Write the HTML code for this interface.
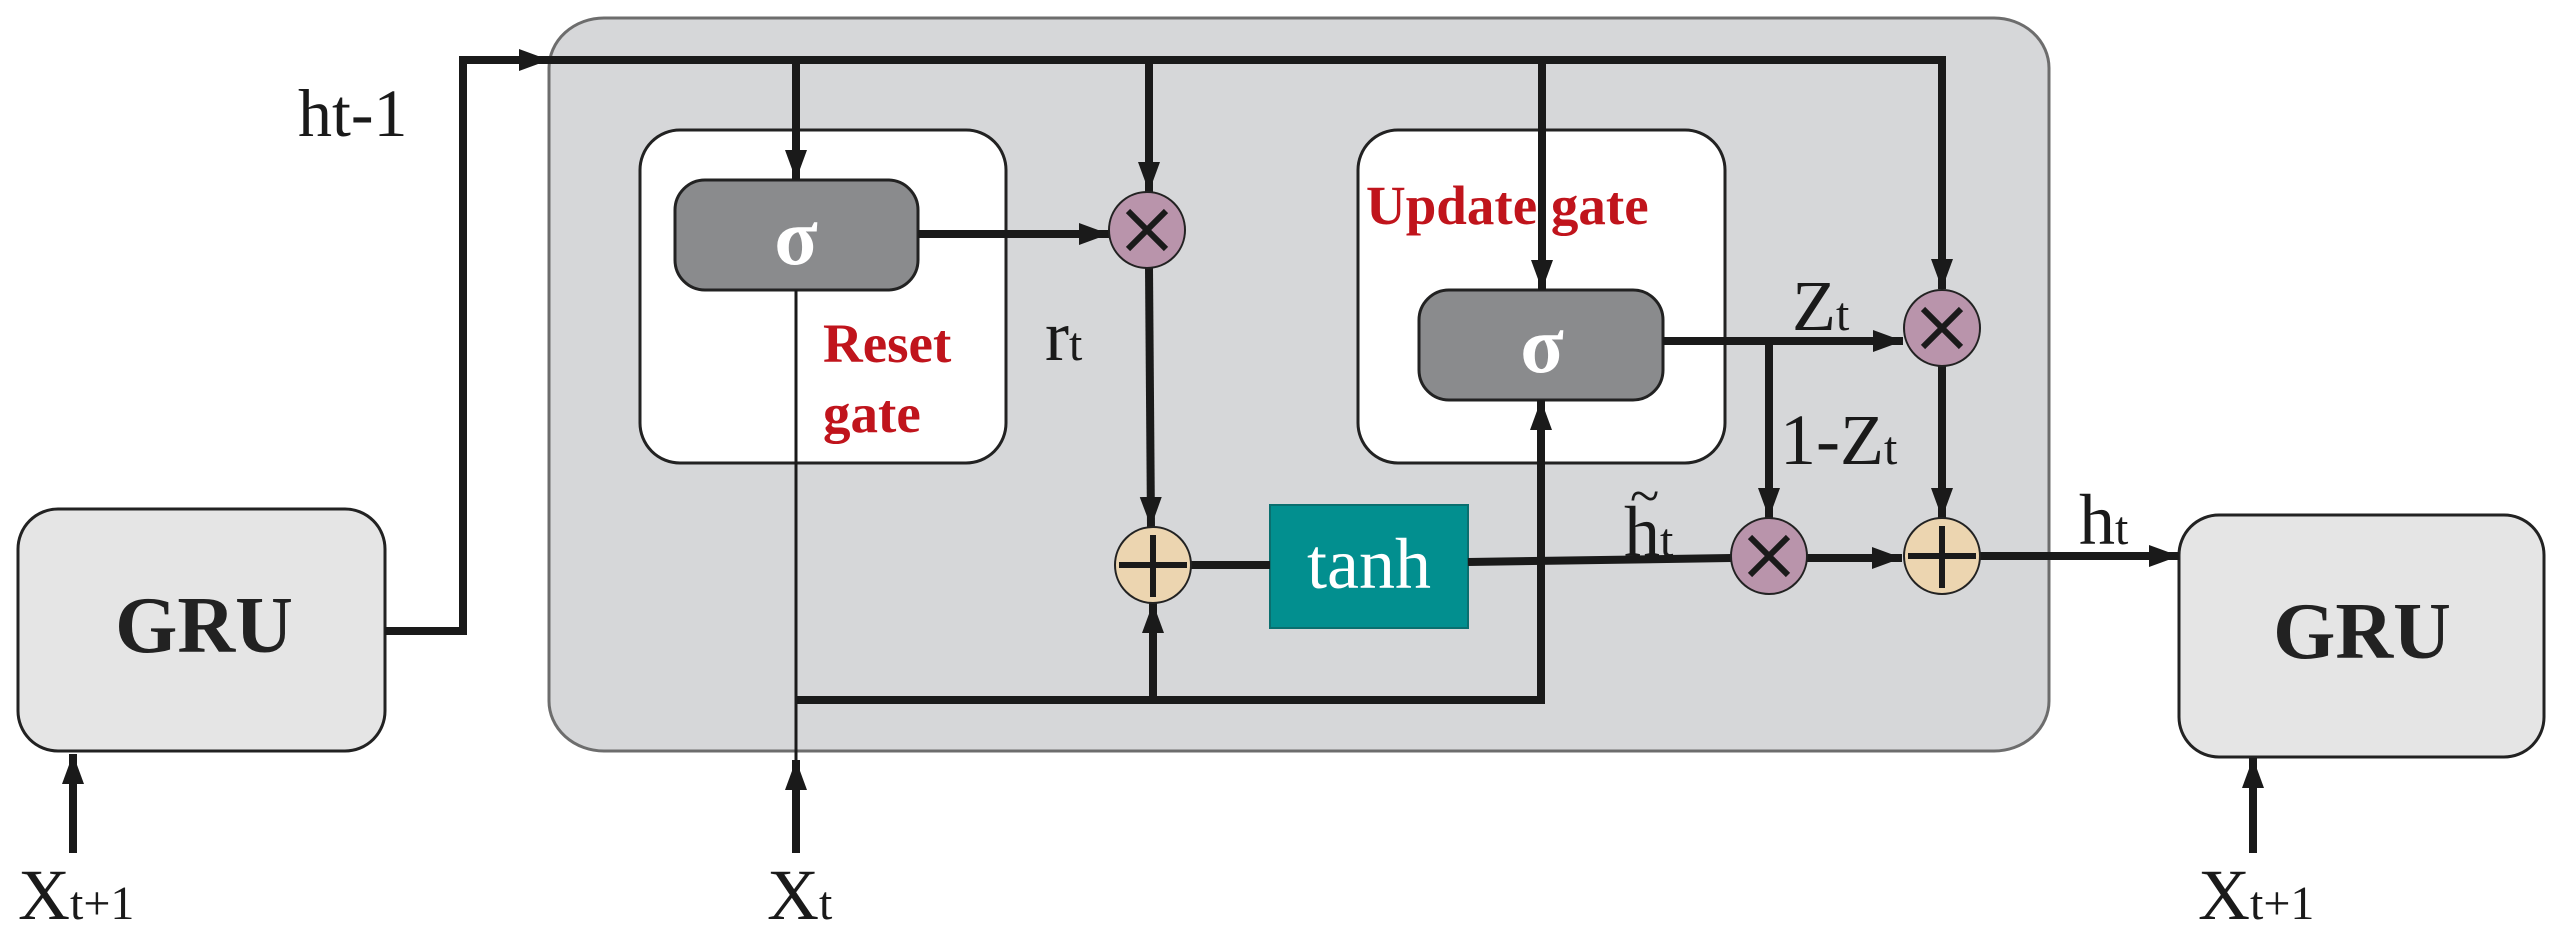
<!DOCTYPE html>
<html><head><meta charset="utf-8"><style>
html,body{margin:0;padding:0;background:#fff;}
svg{display:block;}
text{font-family:"Liberation Serif",serif;}
</style></head><body>
<svg width="2565" height="942" viewBox="0 0 2565 942" xmlns="http://www.w3.org/2000/svg">
<defs>
<marker id="a" markerUnits="userSpaceOnUse" markerWidth="32" markerHeight="26" refX="30" refY="13" orient="auto">
<polygon points="0,2 30,13 0,24" fill="#1a1a1a"/>
</marker>
</defs>
<rect x="549" y="18" width="1500" height="733" rx="55" ry="50" fill="#d6d7d9" stroke="#6d6d6d" stroke-width="3"/>
<rect x="18" y="509" width="367" height="242" rx="40" fill="#e5e5e5" stroke="#222" stroke-width="3"/>
<text x="204" y="652" font-size="80" font-weight="bold" text-anchor="middle" fill="#222">GRU</text>
<rect x="2179" y="515" width="365" height="242" rx="40" fill="#e5e5e5" stroke="#222" stroke-width="3"/>
<text x="2362" y="658" font-size="80" font-weight="bold" text-anchor="middle" fill="#222">GRU</text>
<rect x="640" y="130" width="366" height="333" rx="40" fill="#fff" stroke="#222" stroke-width="3"/>
<rect x="1358" y="130" width="367" height="333" rx="40" fill="#fff" stroke="#222" stroke-width="3"/>
<rect x="675" y="180" width="243" height="110" rx="30" fill="#8a8b8d" stroke="#222" stroke-width="3"/>
<rect x="1419" y="290" width="244" height="110" rx="30" fill="#8a8b8d" stroke="#222" stroke-width="3"/>
<text x="796" y="264" font-size="80" font-weight="bold" text-anchor="middle" fill="#fff">σ</text>
<text x="1542" y="372" font-size="80" font-weight="bold" text-anchor="middle" fill="#fff">σ</text>
<rect x="1270" y="505" width="198" height="123" fill="#028f8f" stroke="#0a6f6f" stroke-width="2"/>
<text x="1369" y="588" font-size="72" text-anchor="middle" fill="#fff">tanh</text>

<g stroke="#1a1a1a" stroke-width="8" fill="none">
<polyline points="385,631 463,631 463,60 549,60" marker-end="url(#a)"/>
<polyline points="549,60 1942,60 1942,289" marker-end="url(#a)"/>
<line x1="796" y1="60" x2="796" y2="180" marker-end="url(#a)"/>
<line x1="1149" y1="60" x2="1149" y2="192" marker-end="url(#a)"/>
<line x1="1542" y1="60" x2="1542" y2="290" marker-end="url(#a)"/>
<line x1="918" y1="234" x2="1109" y2="234" marker-end="url(#a)"/>
<line x1="1149" y1="268" x2="1151" y2="527" marker-end="url(#a)"/>
<polyline points="796,700 1541,700 1541,400" marker-end="url(#a)"/>
<line x1="1153" y1="700" x2="1153" y2="603" marker-end="url(#a)"/>
<line x1="796" y1="853" x2="796" y2="760" marker-end="url(#a)"/>
<line x1="73" y1="853" x2="73" y2="754" marker-end="url(#a)"/>
<line x1="2253" y1="853" x2="2253" y2="758" marker-end="url(#a)"/>
<line x1="1191" y1="565" x2="1270" y2="565"/>
<line x1="1468" y1="562" x2="1731" y2="558"/>
<line x1="1663" y1="341" x2="1903" y2="341" marker-end="url(#a)"/>
<line x1="1769" y1="341" x2="1769" y2="518" marker-end="url(#a)"/>
<line x1="1807" y1="558" x2="1902" y2="558" marker-end="url(#a)"/>
<line x1="1942" y1="366" x2="1942" y2="518" marker-end="url(#a)"/>
<line x1="1979" y1="556" x2="2179" y2="556" marker-end="url(#a)"/>
</g>
<line x1="796" y1="290" x2="796" y2="770" stroke="#1a1a1a" stroke-width="3"/>

<g stroke="#222" stroke-width="2">
<circle cx="1147" cy="230" r="38" fill="#b994ab"/>
<circle cx="1769" cy="556" r="38" fill="#b994ab"/>
<circle cx="1942" cy="328" r="38" fill="#b994ab"/>
<circle cx="1153" cy="565" r="38" fill="#ecd5b0"/>
<circle cx="1942" cy="556" r="38" fill="#ecd5b0"/>
</g>
<g stroke="#1a1a1a" stroke-width="6">
<path d="M1128 211 L1166 249 M1166 211 L1128 249"/>
<path d="M1750 537 L1788 575 M1788 537 L1750 575"/>
<path d="M1923 309 L1961 347 M1961 309 L1923 347"/>
<path d="M1119 565 L1187 565 M1153 535 L1153 597"/>
<path d="M1908 556 L1976 556 M1942 526 L1942 588"/>
</g>

<text x="298" y="136" font-size="68" fill="#1a1a1a">ht-1</text>
<g font-size="55" font-weight="bold" fill="#c0141c">
<text x="823" y="362">Reset</text>
<text x="823" y="432">gate</text>
<text x="1366" y="224">Update gate</text>
</g>
<g fill="#1a1a1a">
<text x="1045" y="360" font-size="72">r<tspan font-size="48">t</tspan></text>
<text x="1792" y="330" font-size="72">Z<tspan font-size="48">t</tspan></text>
<text x="1780" y="464" font-size="72">1-Z<tspan font-size="48">t</tspan></text>
<text x="1624" y="556" font-size="72">h<tspan font-size="48">t</tspan></text>
<text x="1630" y="514" font-size="54">~</text>
<text x="2079" y="544" font-size="72">h<tspan font-size="48">t</tspan></text>
<text x="18" y="919" font-size="72">X<tspan font-size="48">t+1</tspan></text>
<text x="767" y="919" font-size="72">X<tspan font-size="48">t</tspan></text>
<text x="2198" y="919" font-size="72">X<tspan font-size="48">t+1</tspan></text>
</g>
</svg>
</body></html>
